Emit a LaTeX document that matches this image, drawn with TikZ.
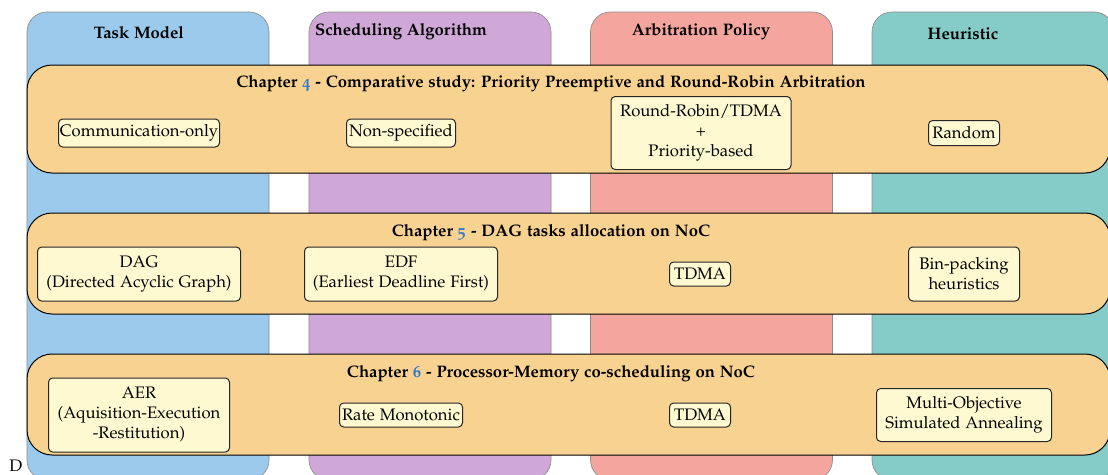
\documentclass[tikz,border=0pt]{standalone}
\usepackage[T1]{fontenc}
\usepackage[osf]{mathpazo}
\usetikzlibrary{positioning}
\definecolor{colA}{RGB}{155,202,236}
\definecolor{colB}{RGB}{207,168,216}
\definecolor{colC}{RGB}{243,165,158}
\definecolor{colD}{RGB}{133,203,200}
\definecolor{bandc}{RGB}{248,210,145}
\definecolor{boxc}{RGB}{254,249,209}
\definecolor{numblue}{RGB}{50,120,200}
\definecolor{colborder}{RGB}{140,140,140}
\tikzset{
  column/.style={draw=colborder, line width=0.4pt, rounded corners=12pt, minimum width=145.2pt, minimum height=280.8pt, inner sep=0pt},
  band/.style={draw=black, fill=bandc, line width=0.6pt, rounded corners=15pt, minimum width=649.8pt, inner sep=0pt},
  inbox/.style={draw=black!85, fill=boxc, line width=0.6pt, rounded corners=2.5pt, align=center, inner sep=0pt},
  head/.style={font=\bfseries, inner sep=0pt},
}
\newcommand{\chnum}[1]{\textcolor{numblue}{#1}}
\begin{document}
\begin{tikzpicture}[x=0.6pt, y=-0.6pt]
\useasboundingbox (0,0) rectangle (1108,474);
\clip (0,0) rectangle (1108,474);
% columns
\node[column, fill=colA] (c1) at (148,246) {};
\node[column, fill=colB] (c2) at (430,246) {};
\node[column, fill=colC] (c3) at (711.5,246) {};
\node[column, fill=colD] (c4) at (993,246) {};
\node[head] (h1) at (139,33) {Task Model};
\node[head] (h2) at (401,32) {Scheduling Algorithm};
\node[head] (h3) at (701,32) {Arbitration Policy};
\node[head] (h4) at (963,34) {Heuristic};
% bands
\node[band, minimum height=64.8pt] (b1) at (568.5,119) {};
\node[band, minimum height=60.6pt] (b2) at (568.5,263.5) {};
\node[band, minimum height=60.6pt] (b3) at (568.5,404.5) {};
\node[head] (t1) at (551,84) {Chapter \chnum{4} - Comparative study: Priority Preemptive and Round-Robin Arbitration};
\node[head] (t2) at (551,233) {Chapter \chnum{5} - DAG tasks allocation on NoC};
\node[head] (t3) at (551,374) {Chapter \chnum{6} - Processor-Memory co-scheduling on NoC};
% chapter 4
\node[inbox, minimum width=96.6pt, minimum height=16.8pt] (comm) at (139,133) {Communication-only};
\node[inbox, minimum width=65.4pt, minimum height=16.8pt] (nonspec) at (401,133) {Non-specified};
\node[inbox, minimum width=108pt, minimum height=43.8pt] (rr) at (701,133) {Round-Robin/TDMA\\+\\Priority-based};
\node[inbox, minimum width=42.6pt, minimum height=15pt] (random) at (964,133) {Random};
% chapter 5
\node[inbox, minimum width=121.8pt, minimum height=32.4pt] (dag) at (139,274) {DAG\\(Directed Acyclic Graph)};
\node[inbox, minimum width=115.8pt, minimum height=32.4pt] (edf) at (401,274) {EDF\\(Earliest Deadline First)};
\node[inbox, minimum width=36.6pt, minimum height=14.4pt] (tdma1) at (700,274) {TDMA};
\node[inbox, minimum width=66.6pt, minimum height=32.4pt] (bin) at (964,274) {Bin-packing\\heuristics};
% chapter 6
\node[inbox, minimum width=108.6pt, minimum height=44.4pt] (aer) at (139,415) {AER\\(Aquisition-Execution\\-Restitution)};
\node[inbox, minimum width=73.8pt, minimum height=14.4pt] (rm) at (401,415) {Rate Monotonic};
\node[inbox, minimum width=36.6pt, minimum height=14.4pt] (tdma2) at (700,415) {TDMA};
\node[inbox, minimum width=105pt, minimum height=31.8pt] (mo) at (964,415) {Multi-Objective\\Simulated Annealing};
% stray letter
\node[inner sep=0pt, anchor=south west] (d) at (9,472) {D};
\end{tikzpicture}
\end{document}
